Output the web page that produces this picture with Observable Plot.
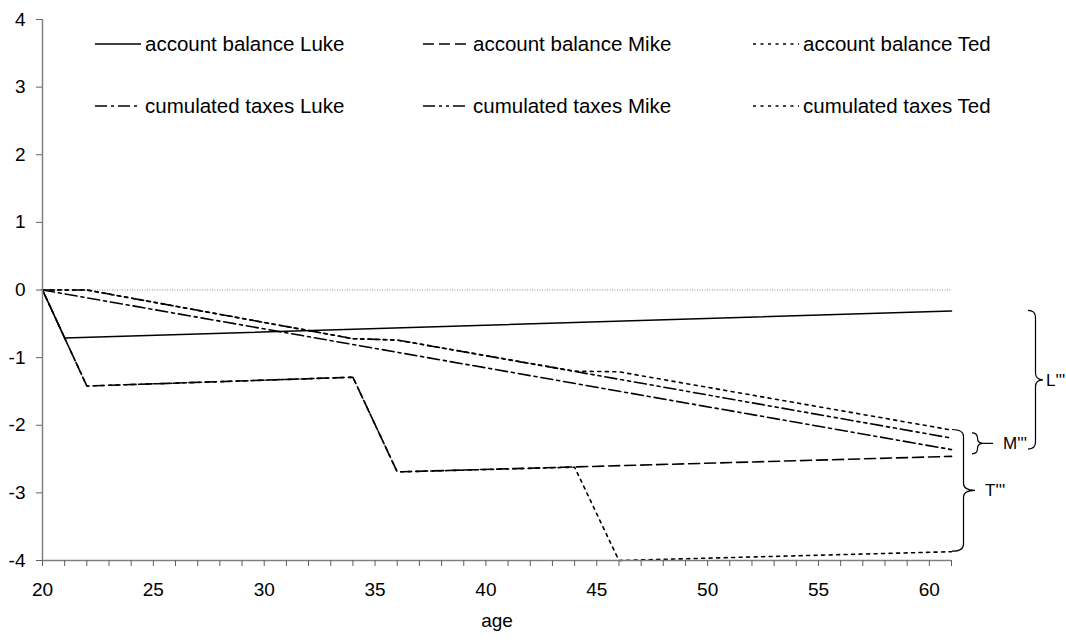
<!DOCTYPE html>
<html><head><meta charset="utf-8">
<script src="https://cdn.jsdelivr.net/npm/d3@7"></script>
<script src="https://cdn.jsdelivr.net/npm/@observablehq/plot@0.6"></script>
<style>
html,body{margin:0;padding:0;background:#fff;}
#chart svg{display:block;}
</style></head><body><div id="chart"></div>
<script>
// ---- data ----
const lukeBalanceAge = [20, 21, 61];
const lukeBalance    = [0, -0.71, -0.31];
const mikeBalanceAge = [20, 22, 34, 36, 61];
const mikeBalance    = [0, -1.42, -1.29, -2.69, -2.46];
const tedBalanceAge  = [20, 22, 34, 36, 44, 46, 61];
const tedBalance     = [0, -1.42, -1.29, -2.69, -2.62, -4.0, -3.87];
const lukeTaxesAge   = [20, 61];
const lukeTaxes      = [0, -2.36];
const mikeTaxesAge   = [20, 22, 34, 36, 61];
const mikeTaxes      = [0, 0, -0.72, -0.74, -2.19];
const tedTaxesAge    = [20, 22, 34, 36, 44, 46, 61];
const tedTaxes       = [0, 0, -0.72, -0.74, -1.20, -1.21, -2.07];

const seriesNames = ["account balance Luke", "account balance Mike", "account balance Ted",
                     "cumulated taxes Luke", "cumulated taxes Mike", "cumulated taxes Ted"];
const yTicks = [-4, -3, -2, -1, 0, 1, 2, 3, 4];
const xTickAges = [20,21,22,23,24,25,26,27,28,29,30,31,32,33,34,35,36,37,38,39,40,
                   41,42,43,44,45,46,47,48,49,50,51,52,53,54,55,56,57,58,59,60,61];
const xLabelAges = [20, 25, 30, 35, 40, 45, 50, 55, 60];
const xAxisTitle = "age";
const braceLabels = ["L'''", "M'''", "T'''"];

// ---- styles ----
const dashes = {
  "account balance Luke": null,
  "account balance Mike": "11,5",
  "account balance Ted": "3,4.5",
  "cumulated taxes Luke": "12,4,3,4",
  "cumulated taxes Mike": "12,4,3,4,3,4",
  "cumulated taxes Ted": "3,4.5"
};
const FONT = "'Liberation Sans', Arial, Helvetica, sans-serif";
const FS = 19;
const LEGEND_FS = 20.5;
const BRACE_FS = 17;

function rows(name, ages, values) { return ages.map((a, i) => ({name, age: a, value: values[i]})); }
const data = {
  "account balance Luke": rows(seriesNames[0], lukeBalanceAge, lukeBalance),
  "account balance Mike": rows(seriesNames[1], mikeBalanceAge, mikeBalance),
  "account balance Ted":  rows(seriesNames[2], tedBalanceAge, tedBalance),
  "cumulated taxes Luke": rows(seriesNames[3], lukeTaxesAge, lukeTaxes),
  "cumulated taxes Mike": rows(seriesNames[4], mikeTaxesAge, mikeTaxes),
  "cumulated taxes Ted":  rows(seriesNames[5], tedTaxesAge, tedTaxes)
};
const drawOrder = ["cumulated taxes Ted", "cumulated taxes Mike", "cumulated taxes Luke",
                   "account balance Ted", "account balance Mike", "account balance Luke"];

const fmt = d => (d < 0 ? "-" + Math.abs(d) : String(d));
const last = arr => arr[arr.length - 1];

function bracePath(x0, y1, y2, w) {
  const xm = x0 + w * 0.5, ym = (y1 + y2) / 2, xt = x0 + w;
  const r = Math.min(7, (y2 - y1) / 4);
  return `M${x0},${y1} Q${xm},${y1} ${xm},${y1 + r} L${xm},${ym - r} Q${xm},${ym} ${xt},${ym}` +
         ` Q${xm},${ym} ${xm},${ym + r} L${xm},${y2 - r} Q${xm},${y2} ${x0},${y2}`;
}

function legendMark(index, scales, values, dims) {
  const g = d3.create("svg:g").attr("font-family", FONT).attr("font-size", LEGEND_FS)
    .attr("fill", "#000").attr("text-anchor", "start");
  const colX = [95, 423, 753], rowY = [44, 106], len = 46;
  seriesNames.forEach((name, i) => {
    const cx = colX[i % 3], cy = rowY[Math.floor(i / 3)];
    g.append("line").attr("x1", cx).attr("x2", cx + len).attr("y1", cy).attr("y2", cy)
      .attr("stroke", "#000").attr("stroke-width", 1.6)
      .attr("stroke-dasharray", dashes[name]);
    g.append("text").attr("x", cx + len + 4).attr("y", cy).attr("dy", "0.35em")
      .attr("text-anchor", "start").text(name);
  });
  return g.node();
}

function braceMark(index, scales, values, dims) {
  const {x, y} = scales;
  const xe = x(61);
  const g = d3.create("svg:g").attr("font-family", FONT).attr("font-size", BRACE_FS)
    .attr("text-anchor", "start");
  const specs = [
    {label: braceLabels[0], top: last(lukeBalance), bot: last(lukeTaxes), dx: 77, w: 15, tail: 0, tx: 95},
    {label: braceLabels[1], top: last(mikeTaxes) + 0.07, bot: last(mikeBalance) + 0.03, dx: 21, w: 11, tail: 10, tx: 52},
    {label: braceLabels[2], top: last(tedTaxes), bot: last(tedBalance), dx: 1, w: 23, tail: 0, tx: 34}
  ];
  specs.forEach(s => {
    const y1 = y(s.top), y2 = y(s.bot), ym = (y1 + y2) / 2;
    g.append("path").attr("d", bracePath(xe + s.dx, y1, y2, s.w))
      .attr("fill", "none").attr("stroke", "#000").attr("stroke-width", 1.2);
    if (s.tail) g.append("line").attr("x1", xe + s.dx + s.w).attr("x2", xe + s.dx + s.w + s.tail)
      .attr("y1", ym).attr("y2", ym).attr("stroke", "#000").attr("stroke-width", 1.2);
    g.append("text").attr("x", xe + s.tx).attr("y", ym).attr("dy", "0.35em")
      .attr("text-anchor", "start").text(s.label);
  });
  return g.node();
}

const chart = Plot.plot({
  width: 1066,
  height: 642,
  marginLeft: 42,
  marginRight: 115,
  marginTop: 19,
  marginBottom: 82,
  style: {fontFamily: FONT, fontSize: FS + "px", background: "#fff", color: "#000"},
  x: {domain: [20, 61]},
  y: {domain: [-4, 4]},
  marks: [
    Plot.ruleY([0], {x1: 20, x2: 61, stroke: "#8c8c8c", strokeWidth: 1, strokeDasharray: "1,1.5"}),
    ...drawOrder.map(name => Plot.line(data[name], {
      x: "age", y: "value", stroke: "#000", strokeWidth: 1.6,
      strokeDasharray: dashes[name], strokeLinejoin: "miter"
    })),
    Plot.ruleX([20], {y1: -4, y2: 4, stroke: "#808080", strokeWidth: 1.5}),
    Plot.ruleY([-4], {x1: 20, x2: 61, stroke: "#808080", strokeWidth: 1.5}),
    Plot.axisY({ticks: yTicks, tickSize: 6, tickPadding: 11, tickFormat: fmt,
                stroke: "#606060", fill: "#000", fontSize: FS, label: null}),
    Plot.axisX({ticks: xTickAges, tickSize: 6, tickPadding: 16,
                tickFormat: d => (xLabelAges.includes(d) ? String(d) : ""),
                stroke: "#606060", fill: "#000", fontSize: FS, label: null}),
    Plot.text([xAxisTitle], {frameAnchor: "bottom", dy: 66, text: d => d, fontSize: FS, fill: "#000"}),
    legendMark,
    braceMark
  ]
});
document.getElementById("chart").appendChild(chart);
</script>
</body></html>
